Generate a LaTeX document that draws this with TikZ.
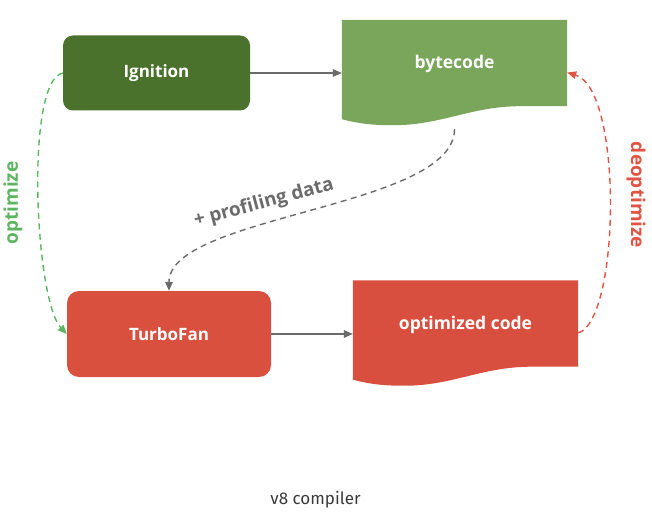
\documentclass[tikz,border=0pt]{standalone}
\usepackage{fontspec}
\setmainfont{Open Sans}
\newfontfamily\captionfont{Fira Sans}
\usetikzlibrary{arrows.meta,calc,backgrounds}
\definecolor{ignfill}{HTML}{4A722C}
\definecolor{bcfill}{HTML}{79A65B}
\definecolor{tffill}{HTML}{D9503F}
\definecolor{ocfill}{HTML}{D94F3F}
\definecolor{optgreen}{HTML}{5DB562}
\definecolor{deored}{HTML}{E05443}
\definecolor{flowgray}{HTML}{6B6B6B}
\definecolor{captiongray}{HTML}{3A3A3A}
\newcommand\wavedocfill[2]{%
  \fill[#2] (#1.north west) -- (#1.north east) -- ([yshift=19pt]#1.south east)
    -- ([xshift=-47pt,yshift=19pt]#1.south east)
    .. controls ([xshift=-97pt,yshift=19pt]#1.south east) and ([xshift=98pt,yshift=-1pt]#1.south west)
    .. ([xshift=48pt]#1.south west)
    .. controls ([xshift=23pt]#1.south west) and ([xshift=8pt,yshift=4pt]#1.south west)
    .. ([yshift=6pt]#1.south west) -- cycle;}
\tikzset{
  boxnode/.style={rectangle, rounded corners=10pt, fill=#1, text=white,
    font=\bfseries\fontsize{17}{20}\selectfont, inner sep=0pt},
  docshape/.style={rectangle, inner sep=0pt, minimum width=225pt, minimum height=105pt,
    text=white, font=\bfseries\fontsize{17.5}{20}\selectfont,
    text height=0pt, text depth=7pt},
  tip/.style={-{Triangle[length=9pt,width=7.5pt]}},
  flow/.style={tip, draw=flowgray, line width=1.4pt},
  dashflow/.style={tip, line width=1.4pt, dash pattern=on 6pt off 4.5pt},
  sidelabel/.style={font=\bfseries\fontsize{19}{22}\selectfont, inner sep=0pt},
}
\begin{document}
\begin{tikzpicture}[x=1pt,y=-1pt]
\useasboundingbox (0,0) rectangle (652,518);
% nodes
\node[boxnode=ignfill, minimum width=187pt, minimum height=75pt] (ign) at (156.5,73) {Ignition};
\node[docshape] (bc) at (454.5,72.5) {bytecode};
\node[boxnode=tffill, rounded corners=12pt, minimum width=204pt, minimum height=86pt] (tf) at (169,334) {TurboFan};
\node[docshape] (oc) at (465.5,333) {optimized code};
\begin{scope}[on background layer]
  \wavedocfill{bc}{bcfill}
  \wavedocfill{oc}{ocfill}
\end{scope}
% connectors
\draw[dashflow, draw=flowgray] ([yshift=-4pt]bc.south)
  .. controls +(0,79) and +(0,-76) .. (tf.north);
\draw[flow] (ign.east) -- (ign.east -| bc.west);
\draw[flow] (tf.east) -- (tf.east -| oc.west);
\draw[dashflow, draw=optgreen] (ign.west)
  .. controls +(-38,7) and +(-32,-34) .. (tf.west);
\draw[dashflow, draw=deored] (oc.east)
  .. controls +(42,-13) and +(56,17) .. (bc.east);
% labels
\node[sidelabel, text=flowgray, rotate=15] (pd) at (264,203) {+ profiling data};
\node[sidelabel, text=optgreen, rotate=90] (optlbl) at (13,203) {optimize};
\node[sidelabel, text=deored, rotate=-90] (deolbl) at (636,195) {deoptimize};
\node[font=\captionfont\fontsize{17}{20}\selectfont, text=captiongray] (cap) at (315.5,500) {v8 compiler};
\end{tikzpicture}
\end{document}
